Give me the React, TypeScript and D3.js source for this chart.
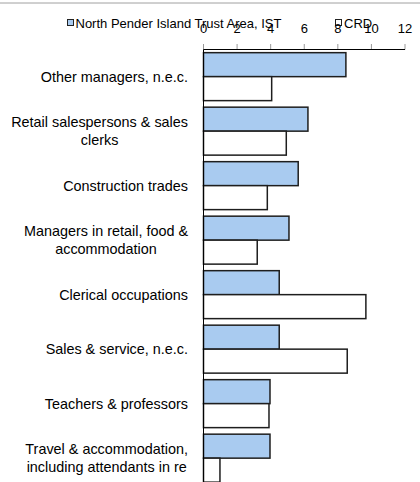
import React from "react";
import * as d3 from "d3";

const categories = [
  "Other managers, n.e.c.",
  "Retail salespersons & sales\nclerks",
  "Construction trades",
  "Managers in retail, food &\naccommodation",
  "Clerical occupations",
  "Sales & service, n.e.c.",
  "Teachers & professors",
  "Travel & accommodation,\nincluding attendants in re",
];
const istValues = [8.48, 6.22, 5.64, 5.09, 4.51, 4.51, 3.96, 3.96];
const crdValues = [4.06, 4.93, 3.8, 3.2, 9.67, 8.56, 3.9, 0.98];
const seriesNames = ["North Pender Island Trust Area, IST", "CRD"];
const tickValues = [0, 2, 4, 6, 8, 10, 12];
const titleText = "Labour Force by Occupation (2006)";

const W = 420;
const H = 482;
const FONT = "Liberation Sans, Arial, sans-serif";

let ctx: CanvasRenderingContext2D | null = null;
function measure(s: string, size: number) {
  if (!ctx) {
    const c = document.createElement("canvas");
    ctx = c.getContext("2d");
  }
  if (!ctx) return s.length * size * 0.5;
  ctx.font = `${size}px "Liberation Sans", Arial, sans-serif`;
  return ctx.measureText(s).width;
}

export default function App() {
  const x = d3.scaleLinear().domain([0, 12]).range([203.5, 405]);
  const y = d3
    .scaleBand<number>()
    .domain(d3.range(categories.length))
    .range([49.4, 485.4])
    .paddingInner(0.12)
    .paddingOuter(0.06);
  const bh = y.bandwidth() / 2;
  const labelRight = 188;
  const fs = 14.4;
  const fsSmall = 13;

  return (
    <svg
      width={W}
      height={H}
      style={{ position: "absolute", left: 0, top: 0, background: "#fff" }}
      fontFamily={FONT}
    >
      <text x={374} y={-2.6} textAnchor="end" fontSize={16.5} fill="#000">
        {titleText}
      </text>
      <line x1={0} x2={W} y1={3} y2={3} stroke="#a0a0a0" strokeWidth={1} />

      {/* legend */}
      <rect x={67.5} y={19.5} width={6} height={6} fill="#a9cbf0" stroke="#222" strokeWidth={1} />
      <text x={75.5} y={28} fontSize={fsSmall} fill="#000">{seriesNames[0]}</text>
      <rect x={335.5} y={19.5} width={6} height={6} fill="#fff" stroke="#222" strokeWidth={1} />
      <text x={344} y={28} fontSize={fsSmall} fill="#000">{seriesNames[1]}</text>

      {/* top axis */}
      {tickValues.map((t) => (
        <g key={t}>
          <line x1={x(t)} x2={x(t)} y1={44} y2={49.5} stroke="#999" strokeWidth={1} />
          <text x={x(t)} y={32.5} fontSize={fsSmall} textAnchor="middle" fill="#000">{t}</text>
        </g>
      ))}
      <line x1={x(0)} x2={x(12)} y1={49.5} y2={49.5} stroke="#000" strokeWidth={1} />

      {/* bars */}
      {categories.map((c, i) => {
        const y0 = y(i) as number;
        return (
          <g key={c}>
            <rect
              x={x(0)}
              y={y0}
              width={x(istValues[i]) - x(0)}
              height={bh}
              fill="#a9cbf0"
              stroke="#1e1e1e"
              strokeWidth={1.5}
            />
            <rect
              x={x(0)}
              y={y0 + bh}
              width={x(crdValues[i]) - x(0)}
              height={bh}
              fill="#fff"
              stroke="#1e1e1e"
              strokeWidth={1.5}
            />
          </g>
        );
      })}
      <line x1={x(0)} x2={x(0)} y1={49.5} y2={H} stroke="#000" strokeWidth={1} />

      {/* category labels */}
      {categories.map((c, i) => {
        const lines = c.split("\n");
        const maxW = Math.max(...lines.map((l) => measure(l, fs)));
        const cx = labelRight - maxW / 2;
        const cy = (y(i) as number) + y.bandwidth() / 2;
        const lh = 17.5;
        const startY = cy - ((lines.length - 1) * lh) / 2 + 5;
        return (
          <text key={c} fontSize={fs} textAnchor="middle" fill="#000">
            {lines.map((l, j) => (
              <tspan key={j} x={cx} y={startY + j * lh}>
                {l}
              </tspan>
            ))}
          </text>
        );
      })}
    </svg>
  );
}
